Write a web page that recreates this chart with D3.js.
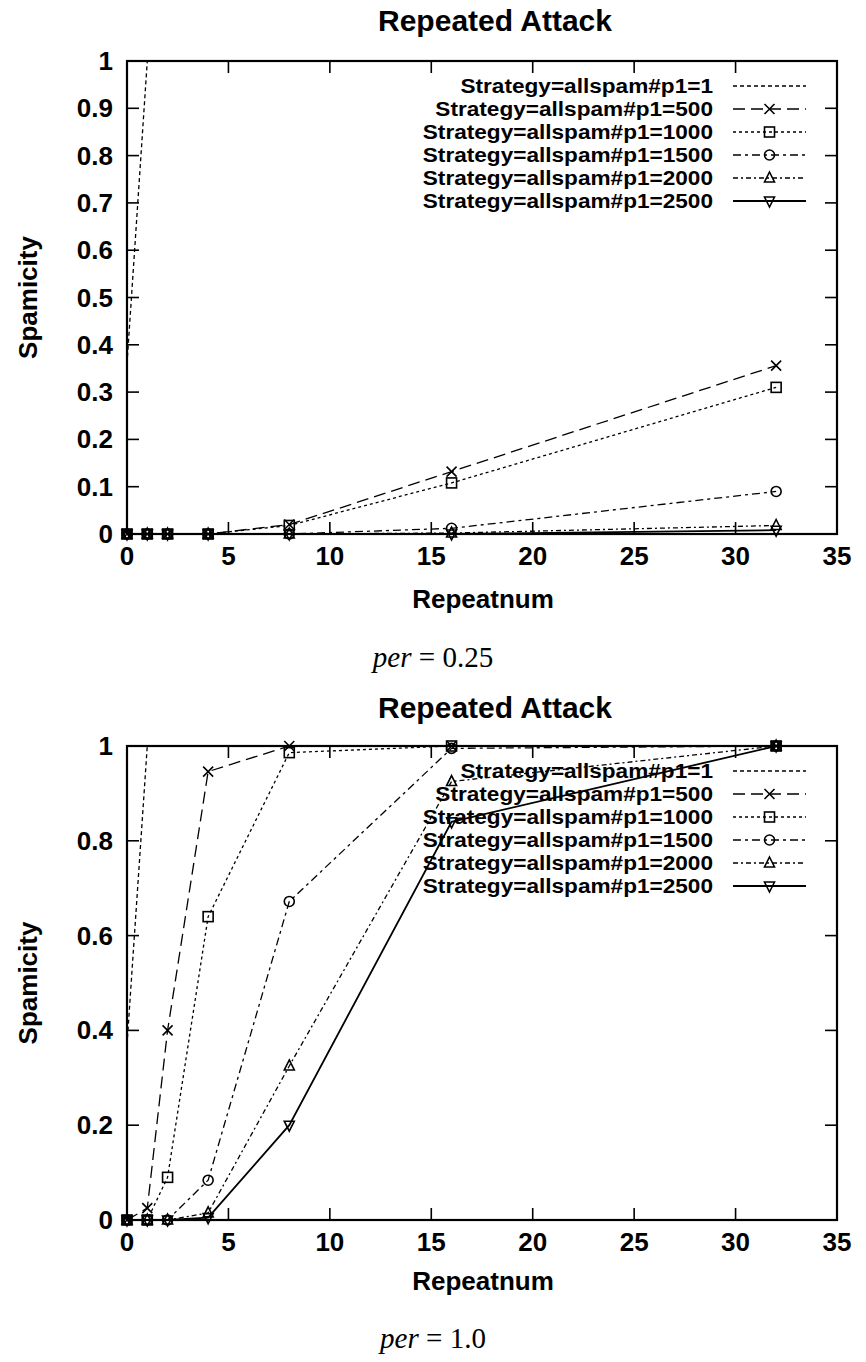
<!DOCTYPE html>
<html>
<head>
<meta charset="utf-8">
<script src="https://cdn.jsdelivr.net/npm/d3@7"></script>
<style>
  html, body { margin: 0; padding: 0; background: #fff; }
  svg { display: block; }
  text { font-family: "Liberation Sans", Arial, Helvetica, sans-serif; fill: #000; }
  .sans { font-weight: bold; }
  .cap { font-family: "Liberation Serif", "Times New Roman", serif; }
</style>
</head>
<body>
<svg id="fig" width="866" height="1362"></svg>
<script>
// Repeat counts on the x axis
const repeatnum = [0, 1, 2, 4, 8, 16, 32];
const seriesNames = [
  "Strategy=allspam#p1=1",
  "Strategy=allspam#p1=500",
  "Strategy=allspam#p1=1000",
  "Strategy=allspam#p1=1500",
  "Strategy=allspam#p1=2000",
  "Strategy=allspam#p1=2500"
];

// Spamicity, per = 0.25
const low_p1_1    = [0.36, 1, 1, 1, 1, 1, 1];
const low_p1_500  = [0, 0, 0, 0, 0.02, 0.132, 0.356];
const low_p1_1000 = [0, 0, 0, 0, 0.018, 0.108, 0.31];
const low_p1_1500 = [0, 0, 0, 0, 0, 0.012, 0.09];
const low_p1_2000 = [0, 0, 0, 0, 0, 0.002, 0.018];
const low_p1_2500 = [0, 0, 0, 0, 0, 0, 0.008];

// Spamicity, per = 1.0
const full_p1_1    = [0.37, 1, 1, 1, 1, 1, 1];
const full_p1_500  = [0, 0.025, 0.40, 0.946, 1, 1, 1];
const full_p1_1000 = [0, 0, 0.09, 0.64, 0.986, 1, 1];
const full_p1_1500 = [0, 0, 0, 0.084, 0.672, 0.995, 1];
const full_p1_2000 = [0, 0, 0, 0.015, 0.325, 0.925, 1];
const full_p1_2500 = [0, 0, 0, 0.005, 0.2, 0.84, 1];

// Axis ticks
const xTicks = [0, 5, 10, 15, 20, 25, 30, 35];
const yTicksLow = [0, 0.1, 0.2, 0.3, 0.4, 0.5, 0.6, 0.7, 0.8, 0.9, 1];
const yTicksFull = [0, 0.2, 0.4, 0.6, 0.8, 1];

// Line style per series: dash pattern and point symbol
const dashes = ["4,3", "12,6", "3,3", "8,4,3,4", "5,3,2,3", null];
const symbols = [null, "cross", "square", "circle", "triangle", "itriangle"];

const svg = d3.select("#fig");

function drawSymbol(g, kind, cx, cy) {
  const s = 5;
  let el;
  if (kind === "cross") {
    el = g.append("path").attr("d", `M${cx - s},${cy - s}L${cx + s},${cy + s}M${cx - s},${cy + s}L${cx + s},${cy - s}`);
  } else if (kind === "square") {
    el = g.append("rect").attr("x", cx - s).attr("y", cy - s).attr("width", 2 * s).attr("height", 2 * s);
  } else if (kind === "circle") {
    el = g.append("circle").attr("cx", cx).attr("cy", cy).attr("r", s);
  } else if (kind === "triangle") {
    el = g.append("path").attr("d", `M${cx},${cy - s - 1}L${cx + s},${cy + s - 1}L${cx - s},${cy + s - 1}Z`);
  } else if (kind === "itriangle") {
    el = g.append("path").attr("d", `M${cx},${cy + s + 1}L${cx + s},${cy - s + 1}L${cx - s},${cy - s + 1}Z`);
  }
  if (el) el.attr("stroke", "#000").attr("stroke-width", 1.6).attr("fill", "none");
}

function drawPanel(opts) {
  const { top, bottom, series, yTicks, titleY, xLabelY, captionY, caption, id } = opts;
  const left = 127, right = 837;
  const x = d3.scaleLinear().domain([0, 35]).range([left, right]);
  const y = d3.scaleLinear().domain([0, 1]).range([bottom, top]);
  const g = svg.append("g");

  g.append("clipPath").attr("id", id).append("rect")
    .attr("x", left).attr("y", top).attr("width", right - left).attr("height", bottom - top);

  // ticks pointing inward on all four sides
  const tickLen = 12;
  const ax = g.append("g").attr("stroke", "#000").attr("stroke-width", 1.6);
  xTicks.forEach(t => {
    const px = x(t);
    ax.append("line").attr("x1", px).attr("x2", px).attr("y1", bottom).attr("y2", bottom - tickLen);
    ax.append("line").attr("x1", px).attr("x2", px).attr("y1", top).attr("y2", top + tickLen);
  });
  yTicks.forEach(t => {
    const py = y(t);
    ax.append("line").attr("x1", left).attr("x2", left + tickLen).attr("y1", py).attr("y2", py);
    ax.append("line").attr("x1", right).attr("x2", right - tickLen).attr("y1", py).attr("y2", py);
  });

  // tick labels
  g.selectAll(null).data(xTicks).enter().append("text").attr("class", "sans")
    .attr("x", d => x(d)).attr("y", bottom + 31)
    .attr("text-anchor", "middle").attr("font-size", 26)
    .text(d => String(d));
  g.selectAll(null).data(yTicks).enter().append("text").attr("class", "sans")
    .attr("x", left - 14).attr("y", d => y(d) + 9)
    .attr("text-anchor", "end").attr("font-size", 26)
    .text(d => String(d));

  // legend (drawn before the curves so lines pass over the text)
  const legX = 713, sampleX0 = 733, sampleX1 = 806;
  const legY0 = top + 25, legDy = 23;
  seriesNames.forEach((name, i) => {
    const ly = legY0 + i * legDy;
    const t = g.append("text").attr("class", "sans").attr("x", legX).attr("y", ly + 7)
      .attr("text-anchor", "end").attr("font-size", 20)
      .text(name);
    // widen the label glyphs horizontally
    const w = t.node().getComputedTextLength();
    t.attr("textLength", w * 1.13).attr("lengthAdjust", "spacingAndGlyphs");
    const ln = g.append("line").attr("x1", sampleX0).attr("x2", sampleX1)
      .attr("y1", ly).attr("y2", ly)
      .attr("stroke", "#000").attr("stroke-width", i === 5 ? 1.8 : 1.3);
    if (dashes[i]) ln.attr("stroke-dasharray", dashes[i]);
    if (symbols[i]) drawSymbol(g, symbols[i], (sampleX0 + sampleX1) / 2, ly);
  });

  // curves
  const line = d3.line().x(d => x(d[0])).y(d => y(d[1]));
  series.forEach((vals, i) => {
    const pts = repeatnum.map((r, j) => [r, vals[j]]);
    const p = g.append("path").datum(pts)
      .attr("d", line).attr("fill", "none")
      .attr("stroke", "#000").attr("stroke-width", i === 5 ? 1.8 : 1.3)
      .attr("clip-path", `url(#${id})`);
    if (dashes[i]) p.attr("stroke-dasharray", dashes[i]);
  });
  series.forEach((vals, i) => {
    if (!symbols[i]) return;
    repeatnum.forEach((r, j) => drawSymbol(g, symbols[i], x(r), y(vals[j])));
  });

  // frame
  g.append("rect").attr("x", left).attr("y", top)
    .attr("width", right - left).attr("height", bottom - top)
    .attr("fill", "none").attr("stroke", "#000").attr("stroke-width", 2.2);

  // titles
  g.append("text").attr("class", "sans").attr("x", 495).attr("y", titleY)
    .attr("text-anchor", "middle").attr("font-size", 30).text("Repeated Attack");
  g.append("text").attr("class", "sans").attr("x", 483).attr("y", xLabelY)
    .attr("text-anchor", "middle").attr("font-size", 26).text("Repeatnum");
  g.append("text").attr("class", "sans")
    .attr("transform", `translate(37,${(top + bottom) / 2}) rotate(-90)`)
    .attr("text-anchor", "middle").attr("font-size", 26).text("Spamicity");

  const cap = g.append("text").attr("class", "cap")
    .attr("x", 433).attr("y", captionY).attr("text-anchor", "middle").attr("font-size", 29);
  cap.append("tspan").attr("font-style", "italic").text("per");
  cap.append("tspan").text(" = " + caption);
}

drawPanel({
  id: "clipLow", top: 61, bottom: 534, yTicks: yTicksLow,
  series: [low_p1_1, low_p1_500, low_p1_1000, low_p1_1500, low_p1_2000, low_p1_2500],
  titleY: 31, xLabelY: 608, captionY: 667, caption: "0.25"
});
drawPanel({
  id: "clipFull", top: 746, bottom: 1220, yTicks: yTicksFull,
  series: [full_p1_1, full_p1_500, full_p1_1000, full_p1_1500, full_p1_2000, full_p1_2500],
  titleY: 718, xLabelY: 1290, captionY: 1348, caption: "1.0"
});
</script>
</body>
</html>
